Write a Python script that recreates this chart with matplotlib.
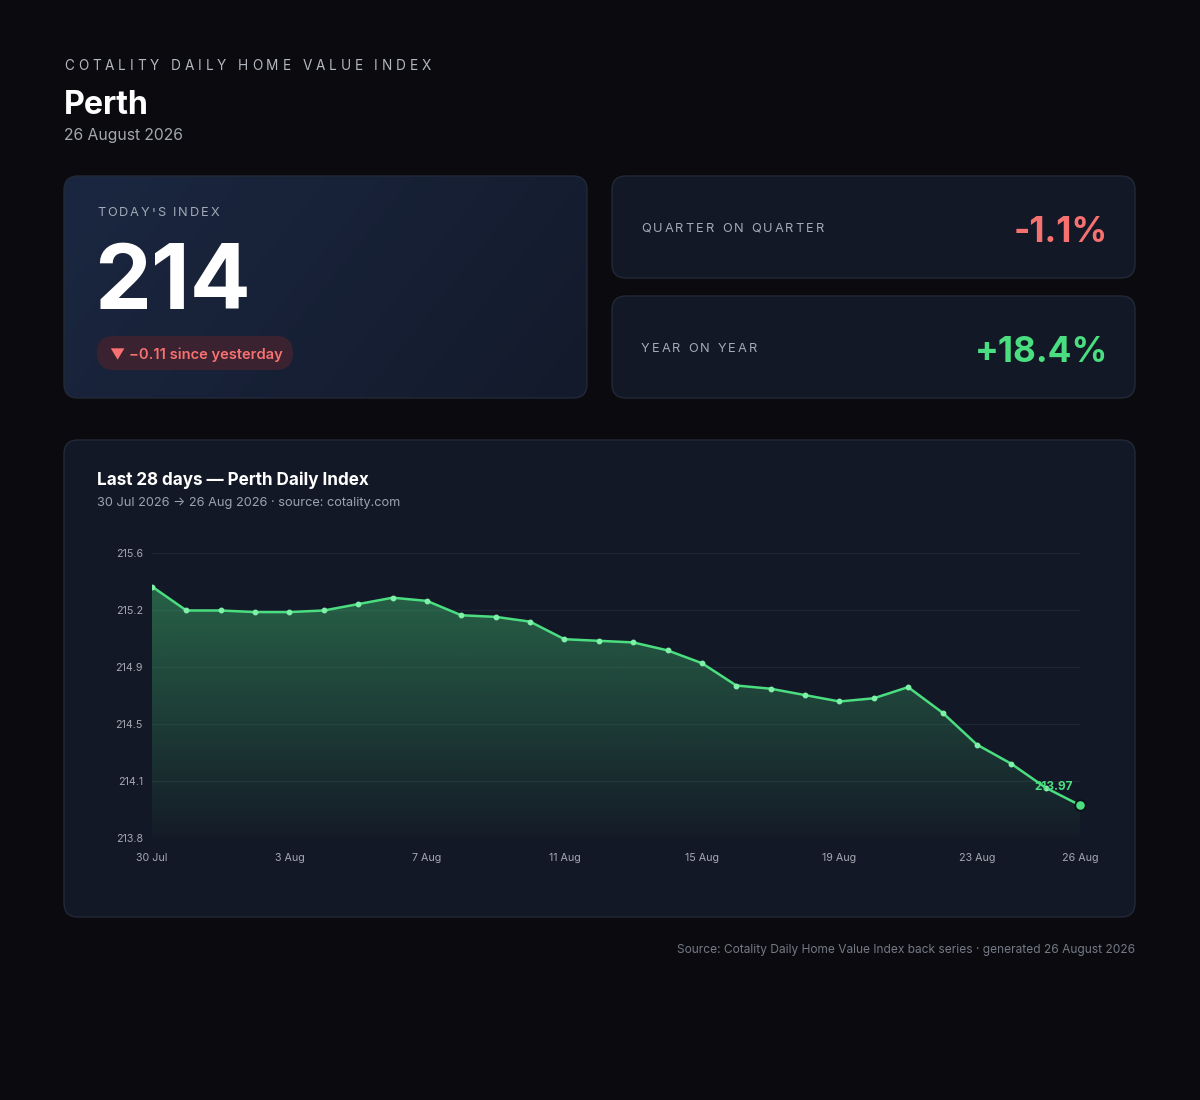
import numpy as np
import pandas as pd
import matplotlib
matplotlib.use("Agg")
import matplotlib.pyplot as plt
import matplotlib.dates as mdates
from matplotlib.patches import FancyBboxPatch
from matplotlib.colors import to_rgb

plt.rcParams['font.family'] = ['Inter', 'DejaVu Sans']

# data
dates = pd.date_range('2026-07-30', '2026-08-26', freq='D')
index_values = [215.34, 215.19, 215.19, 215.18, 215.18, 215.19, 215.23, 215.27,
                215.25, 215.16, 215.15, 215.12, 215.01, 215.00, 214.99, 214.94,
                214.86, 214.72, 214.70, 214.66, 214.62, 214.64, 214.71, 214.55,
                214.35, 214.23, 214.08, 213.97]
y_limits = (213.765, 215.55)
y_tick_labels = ['213.8', '214.1', '214.5', '214.9', '215.2', '215.6']

kicker = "COTALITY DAILY HOME VALUE INDEX"
city = "Perth"
date_line = "26 August 2026"
today_label = "TODAY'S INDEX"
today_value = "214"
change_text = "\u25bc \u22120.11 since yesterday"
qoq_label, qoq_value = "QUARTER ON QUARTER", "-1.1%"
yoy_label, yoy_value = "YEAR ON YEAR", "+18.4%"
chart_title = "Last 28 days \u2014 Perth Daily Index"
chart_sub = "30 Jul 2026 \u2192 26 Aug 2026 \u00b7 source: cotality.com"
footer = "Source: Cotality Daily Home Value Index back series \u00b7 generated 26 August 2026"

BG = '#0b0b0f'
CARD = '#131826'
EDGE = '#222938'
GREEN = '#4ade80'
RED = '#f87171'
GRAY = '#9ca3af'
LABEL = '#a3aab8'

W, H = 1200, 1100
fig = plt.figure(figsize=(W / 100, H / 100), dpi=100, facecolor=BG)

# background axes in pixel units (y down)
bg = fig.add_axes([0, 0, 1, 1])
bg.set_xlim(0, W)
bg.set_ylim(H, 0)
bg.axis('off')
bg.set_facecolor(BG)


def card(x0, y0, x1, y1, face=CARD, r=14):
    p = FancyBboxPatch((x0, y0), x1 - x0, y1 - y0,
                       boxstyle=f"round,pad=0,rounding_size={r}",
                       facecolor=face, edgecolor=EDGE, linewidth=1.0, zorder=1)
    bg.add_patch(p)
    return p


renderer = fig.canvas.get_renderer()


def text_width(s, **kw):
    t = bg.text(0, 0, s, **kw)
    w = t.get_window_extent(renderer).width
    t.remove()
    return w


def spaced(x, y, s, size, color, x_end, weight='normal'):
    # letter-spaced label spread from x to x_end, one glyph per text
    kw = dict(fontsize=size, fontweight=weight)
    bar = text_width('|', **kw)
    offs = [text_width(s[:i] + '|', **kw) - bar if i else 0 for i in range(len(s))]
    natural = text_width(s, **kw)
    track = (x_end - x - natural) / (len(s) - 1)
    for i, ch in enumerate(s):
        bg.text(x + offs[i] + i * track, y, ch, color=color, va='baseline', ha='left',
                zorder=5, **kw)


# header (y values are baselines)
spaced(64, 70, kicker, 9.8, '#b4b8c0', 431)
bg.text(64, 114, city, fontsize=23.2, fontweight='bold', color='white', va='baseline')
bg.text(64, 140, date_line, fontsize=11.3, color='#a3a7ae', va='baseline')

# today card with gradient
tc = card(64, 176, 587, 398, face='none')
c1, c2 = np.array(to_rgb('#1b2741')), np.array(to_rgb('#131a2b'))
gx, gy = np.meshgrid(np.linspace(0, 1, 64), np.linspace(0, 1, 32))
tt = (gx * 0.75 + gy * 0.25)[..., None]
grad = c1 * (1 - tt) + c2 * tt
im = bg.imshow(grad, extent=(64, 587, 398, 176), aspect='auto', zorder=0.5,
               interpolation='bilinear')
im.set_clip_path(tc)
spaced(97, 216.5, today_label, 9.2, LABEL, 219)
bg.text(94, 309, today_value, fontsize=65, fontweight='bold', color='white', va='baseline')
pill = FancyBboxPatch((97, 336), 196, 34, boxstyle="round,pad=0,rounding_size=17",
                      facecolor='#3a2230', edgecolor='none', zorder=2)
bg.add_patch(pill)
bg.text(110, 358.5, change_text, fontsize=10.6, fontweight='semibold', color=RED,
        va='baseline', zorder=5)

# right cards
card(612, 176, 1135, 278)
card(612, 296, 1135, 398)
spaced(641, 232, qoq_label, 9.2, LABEL, 824)
spaced(641, 352, yoy_label, 9.2, LABEL, 757)
bg.text(1108, 242, qoq_value, fontsize=25.3, fontweight='bold', color=RED,
        ha='right', va='baseline')
bg.text(1108, 361.5, yoy_value, fontsize=25.3, fontweight='bold', color=GREEN,
        ha='right', va='baseline')

# chart card
card(64, 440, 1135, 917)
bg.text(97, 485, chart_title, fontsize=12.3, fontweight='bold', color='white', va='baseline')
bg.text(97, 506, chart_sub, fontsize=9.2, color=GRAY, va='baseline')

bg.text(1135, 953.5, footer, fontsize=8.6, color='#737985', ha='right', va='baseline')

# line chart
ax = fig.add_axes([152 / W, 1 - 838 / H, 928 / W, 285 / H])
ax.patch.set_alpha(0)
ax.set_zorder(3)
xs = mdates.date2num(dates)
ax.set_xlim(xs[0], xs[-1])
ax.set_ylim(*y_limits)

yticks = np.linspace(y_limits[0], y_limits[1], len(y_tick_labels))
ax.set_yticks(yticks)
ax.set_yticklabels(y_tick_labels)
for yv in yticks:
    ax.axhline(yv, color='#1e2533', linewidth=0.9, zorder=0)

tick_dates = list(dates[::4])
if tick_dates[-1] != dates[-1]:
    tick_dates.append(dates[-1])
ax.set_xticks(mdates.date2num(tick_dates))
ax.set_xticklabels([f"{d.day} {d.strftime('%b')}" for d in tick_dates])

ax.tick_params(length=0, labelsize=7.7, labelcolor='#a3a8b2')
ax.tick_params(axis='y', pad=6.5)
ax.tick_params(axis='x', pad=10.5)
for s in ax.spines.values():
    s.set_visible(False)

# gradient area under the line
fill = ax.fill_between(xs, index_values, y_limits[0], facecolor='none', edgecolor='none')
rgb = np.array(to_rgb(GREEN))
alpha = np.linspace(0.42, 0.02, 200)[:, None]
area = np.zeros((200, 1, 4))
area[..., :3] = rgb
area[..., 3] = alpha
gim = ax.imshow(area, extent=(xs[0], xs[-1], y_limits[0], y_limits[1]),
                aspect='auto', origin='upper', zorder=1)
gim.set_clip_path(fill.get_paths()[0], transform=ax.transData)

ax.plot(xs, index_values, color=GREEN, linewidth=1.8, zorder=3)
ax.plot(xs[:-1], index_values[:-1], 'o', color='#7ef0a8', markersize=3.2, zorder=4)
ax.plot(xs[-1], index_values[-1], 'o', color=GREEN, markersize=7.5,
        markeredgecolor='#0b0f17', markeredgewidth=1.3, zorder=5, clip_on=False)
ax.annotate(f"{index_values[-1]:.2f}", (xs[-1], index_values[-1]),
            xytext=(-5, 13.5), textcoords='offset points', ha='right', va='center',
            fontsize=8.5, fontweight='bold', color=GREEN, zorder=6)

fig.savefig('out.png', dpi=100, facecolor=BG)
